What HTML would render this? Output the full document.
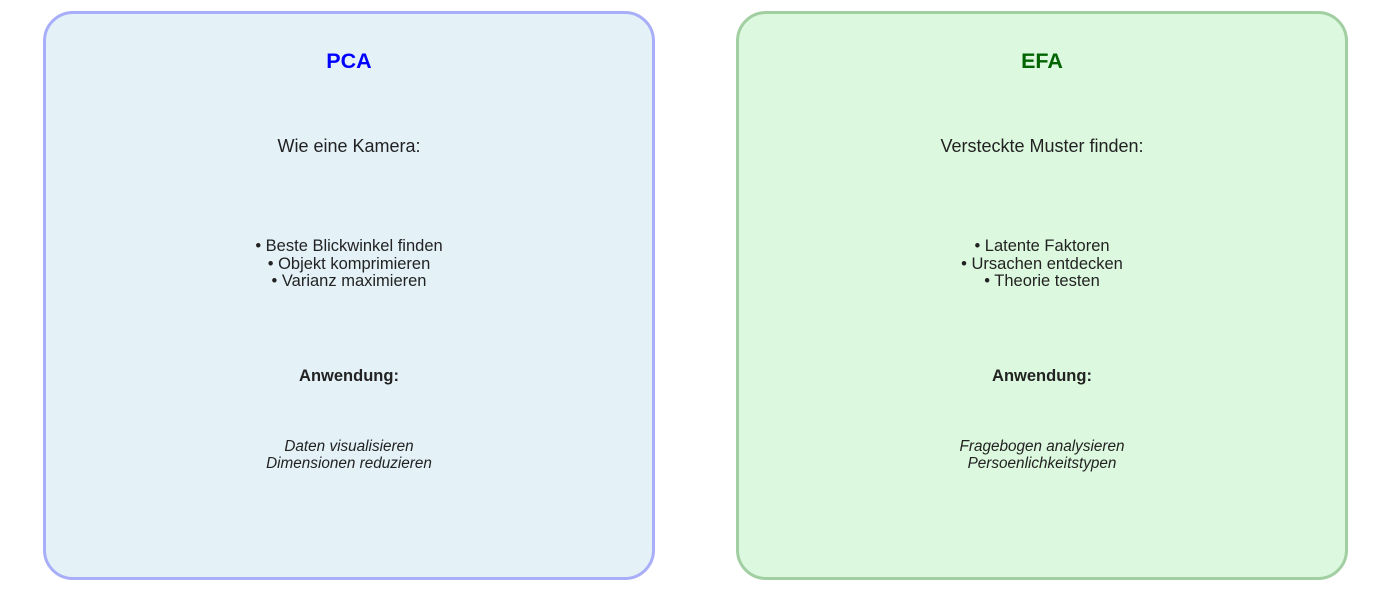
<!DOCTYPE html>
<html><head><style>
body{margin:0;width:1389px;height:590px;background:#fff;position:relative;font-family:"Liberation Sans",sans-serif;color:#222;}
.box{position:absolute;top:11px;width:606px;height:563px;border:3px solid;border-radius:30px;}
.t{position:absolute;left:0;width:100%;text-align:center;}
</style></head><body>
<div class="box" style="left:43px;background:#e4f2f8;border-color:#a8aef8;">
<div class="t" style="top:35px;font-size:21.5px;font-weight:bold;color:#0000ff;">PCA</div>
<div class="t" style="top:122px;font-size:18px;">Wie eine Kamera:</div>
<div class="t" style="top:224px;font-size:16.5px;line-height:17.5px;">• Beste Blickwinkel finden<br>• Objekt komprimieren<br>• Varianz maximieren</div>
<div class="t" style="top:353px;font-size:16.5px;font-weight:bold;">Anwendung:</div>
<div class="t" style="top:424px;font-size:15.3px;font-style:italic;line-height:17px;">Daten visualisieren<br>Dimensionen reduzieren</div>
</div>
<div class="box" style="left:736px;background:#dcf8de;border-color:#a2cfa2;">
<div class="t" style="top:35px;font-size:21.5px;font-weight:bold;color:#006400;">EFA</div>
<div class="t" style="top:122px;font-size:18px;">Versteckte Muster finden:</div>
<div class="t" style="top:224px;font-size:16.5px;line-height:17.5px;">• Latente Faktoren<br>• Ursachen entdecken<br>• Theorie testen</div>
<div class="t" style="top:353px;font-size:16.5px;font-weight:bold;">Anwendung:</div>
<div class="t" style="top:424px;font-size:15.3px;font-style:italic;line-height:17px;">Fragebogen analysieren<br>Persoenlichkeitstypen</div>
</div>
</body></html>
